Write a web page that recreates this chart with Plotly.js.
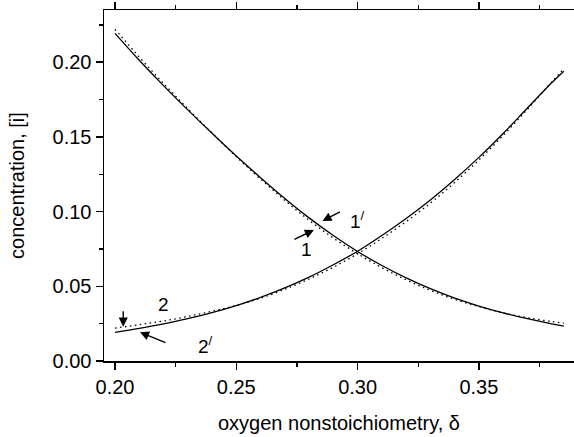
<!DOCTYPE html>
<html>
<head>
<meta charset="utf-8">
<script src="https://cdn.plot.ly/plotly-3.0.1.min.js"></script>
<style>html,body{margin:0;padding:0;background:#fff;}#chart{width:574px;height:437px;}</style>
</head>
<body>
<div id="chart"></div>
<script>
// oxygen nonstoichiometry values (x)
const delta = [0.20, 0.21, 0.22, 0.23, 0.24, 0.25, 0.26, 0.27, 0.28, 0.29, 0.30,
               0.31, 0.32, 0.33, 0.34, 0.35, 0.36, 0.37, 0.38, 0.385];
// curve 1 (solid, decreasing)
const curve1 = [0.2193, 0.2013, 0.1843, 0.1681, 0.1524, 0.1372, 0.1227, 0.1088, 0.0958, 0.0840, 0.0733,
                0.0639, 0.0556, 0.0484, 0.0421, 0.0368, 0.0322, 0.0283, 0.0249, 0.0234];
// curve 1' (dotted, decreasing)
const curve1p = [0.2220, 0.2035, 0.1858, 0.1689, 0.1526, 0.1368, 0.1218, 0.1075, 0.0942, 0.0823, 0.0718,
                 0.0625, 0.0543, 0.0473, 0.0413, 0.0364, 0.0322, 0.0290, 0.0264, 0.0254];
// curve 2' (solid, increasing)
const curve2p = [0.0192, 0.0218, 0.0248, 0.0284, 0.0324, 0.0371, 0.0426, 0.0489, 0.0561, 0.0644, 0.0735,
                 0.0840, 0.0954, 0.1078, 0.1215, 0.1363, 0.1523, 0.1693, 0.1862, 0.1940];
// curve 2 (dotted, increasing)
const curve2 = [0.0220, 0.0243, 0.0268, 0.0298, 0.0333, 0.0372, 0.0420, 0.0480, 0.0549, 0.0628, 0.0718,
                0.0821, 0.0933, 0.1057, 0.1195, 0.1346, 0.1510, 0.1685, 0.1868, 0.1955];

const xTicks = [0.20, 0.25, 0.30, 0.35];
const xTickText = ['0.20', '0.25', '0.30', '0.35'];
const yTicks = [0.00, 0.05, 0.10, 0.15, 0.20];
const yTickText = ['0.00', '0.05', '0.10', '0.15', '0.20'];

const FONT = 'Liberation Sans, Arial, sans-serif';

const traces = [
  {x: delta, y: curve1, mode: 'lines', line: {color: '#000', width: 1.3, shape: 'spline'}, name: '1'},
  {x: delta, y: curve1p, mode: 'lines', line: {color: '#000', width: 1.3, dash: '1.5px,3.5px', shape: 'spline'}, name: "1'"},
  {x: delta, y: curve2p, mode: 'lines', line: {color: '#000', width: 1.3, shape: 'spline'}, name: "2'"},
  {x: delta, y: curve2, mode: 'lines', line: {color: '#000', width: 1.3, dash: '1.5px,3.5px', shape: 'spline'}, name: '2'}
];

const arrowStyle = {showarrow: true, arrowhead: 2, arrowsize: 1.3, arrowwidth: 1.4, arrowcolor: '#000', text: '', xref: 'x', yref: 'y'};
const txt = (x, y, t) => ({x: x, y: y, xref: 'x', yref: 'y', text: t, showarrow: false,
  font: {family: FONT, size: 19, color: '#000'}});

const layout = {
  width: 574, height: 437,
  margin: {l: 104, r: 0, t: 10, b: 76, pad: 0},
  paper_bgcolor: '#fff', plot_bgcolor: '#fff',
  showlegend: false,
  font: {family: FONT, size: 20, color: '#000'},
  xaxis: {
    range: [0.19547, 0.38920],
    tickvals: xTicks, ticktext: xTickText,
    ticks: 'outside', ticklen: 7, tickwidth: 1.5, tickcolor: '#000',
    minor: {dtick: 0.025, tick0: 0.2, ticks: 'outside', ticklen: 4, tickwidth: 1.5, tickcolor: '#000'},
    showline: true, linewidth: 1.5, linecolor: '#000', mirror: 'ticks',
    showgrid: false, zeroline: false,
    tickfont: {family: FONT, size: 20, color: '#000'},
    title: {text: 'oxygen nonstoichiometry, δ', font: {family: FONT, size: 20, color: '#000'}, standoff: 19}
  },
  yaxis: {
    range: [0, 0.23494],
    tickvals: yTicks, ticktext: yTickText,
    ticks: 'outside', ticklen: 7, tickwidth: 1.5, tickcolor: '#000',
    minor: {dtick: 0.025, tick0: 0, ticks: 'outside', ticklen: 4, tickwidth: 1.5, tickcolor: '#000'},
    showline: true, linewidth: 1.5, linecolor: '#000', mirror: false,
    showgrid: false, zeroline: false,
    tickfont: {family: FONT, size: 20, color: '#000'},
    title: {text: 'concentration, [i]', font: {family: FONT, size: 20, color: '#000'}, standoff: 22}
  },
  annotations: [
    Object.assign({}, arrowStyle, {x: 0.2820, y: 0.0877, ax: -21, ay: 10}),
    Object.assign({}, arrowStyle, {x: 0.2855, y: 0.0937, ax: 19, ay: -10}),
    Object.assign({}, arrowStyle, {x: 0.2034, y: 0.0230, ax: 0, ay: -17}),
    Object.assign({}, arrowStyle, {x: 0.2103, y: 0.0192, ax: 27, ay: 11}),
    txt(0.2790, 0.0748, '1'),
    txt(0.2998, 0.0944, '1<sup>/</sup>'),
    txt(0.2199, 0.0375, '2'),
    txt(0.2375, 0.0107, '2<sup>/</sup>')
  ]
};

Plotly.newPlot('chart', traces, layout, {displayModeBar: false, staticPlot: true});
</script>
</body>
</html>
